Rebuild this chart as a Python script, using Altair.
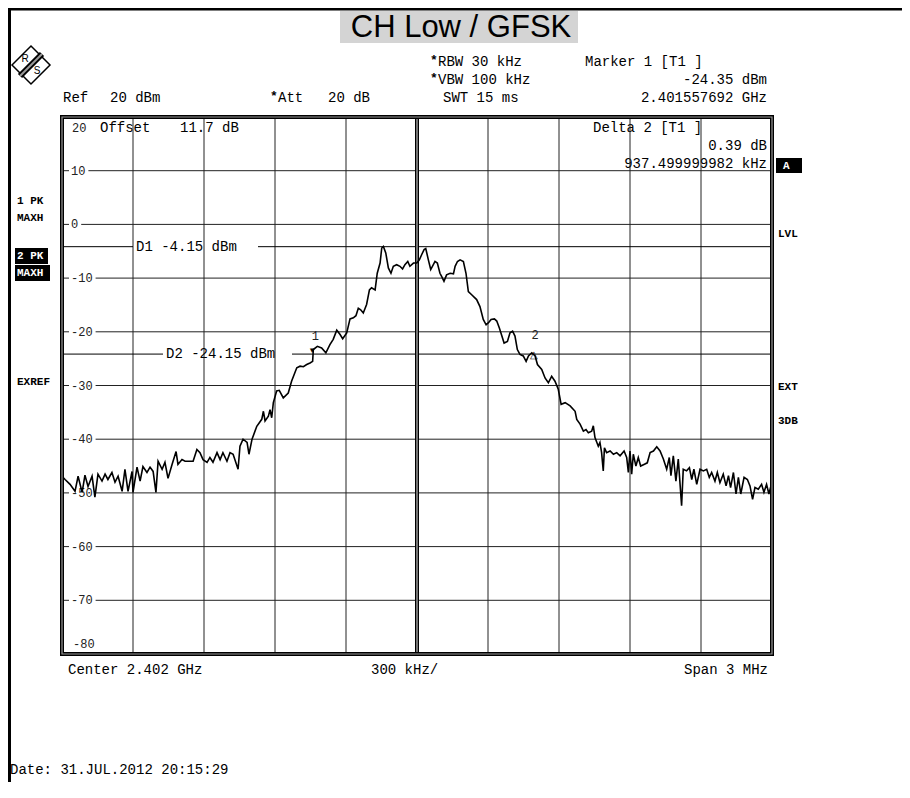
import altair as alt
import pandas as pd

# ---------------- data (frequency offset from 2.402 GHz in kHz, level in dBm) ----------------
left_freq = [-1498, -1487, -1466, -1445, -1432, -1415, -1403, -1390, -1373, -1361, -1348, -1331, -1318,
             -1306, -1289, -1276, -1263, -1246, -1234, -1221, -1204, -1200, -1183, -1170, -1158, -1141,
             -1128, -1115, -1103, -1094, -1077, -1065, -1052, -1035, -1018, -1010, -993, -980, -968,
             -946, -930, -917, -904, -887, -875, -862, -845, -832, -820, -803, -790, -777, -756, -748,
             -735, -718, -710, -697]
left_level = [-47.0, -47.5, -48.4, -49.7, -46.9, -49.9, -46.7, -48.8, -46.9, -50.8, -46.5, -47.8, -46.5,
              -47.5, -46.2, -48.0, -46.9, -49.7, -45.6, -49.7, -46.0, -49.9, -45.2, -47.8, -45.1, -46.2,
              -45.2, -46.0, -49.9, -44.1, -45.6, -44.3, -47.3, -44.7, -42.3, -44.7, -43.8, -44.1, -44.1,
              -44.1, -41.9, -42.5, -43.8, -44.3, -43.4, -44.3, -42.5, -43.8, -42.5, -44.1, -42.5, -42.8,
              -45.6, -41.3, -40.0, -40.6, -42.8, -40.0]

lobe_freq = [-677, -656, -649, -642, -628, -621, -614, -607, -593, -582,
             -565, -544, -530, -508, -494, -480, -466, -452, -441, -438,
             -421, -403, -385, -368, -354, -339, -325, -314, -297, -283,
             -269, -258, -248, -238, -227, -213, -201, -192, -177, -168,
             -156, -149, -142, -132, -121, -110, -100, -86, -72, -61,
             -51, -39, -30, -15, -1, 10, 20, 30, 37, 48,
             58, 69, 76, 86, 97, 104, 114, 125, 140, 154,
             161, 171, 182, 196, 207, 217, 231, 252, 266, 280,
             292, 302, 313, 327, 337, 348, 358, 368, 382, 393,
             404, 414, 424, 435, 449, 461, 471, 485, 499, 509,
             527, 541, 555, 569, 583, 597, 609, 626, 647, 668]
lobe_level = [-37.6, -36.3, -34.8, -36.6, -35.7, -34.5, -36.0, -33.2, -31.0, -30.9,
              -32.3, -31.4, -29.2, -26.7, -26.4, -26.5, -26.1, -25.8, -25.5, -23.3,
              -22.7, -23.0, -23.9, -22.4, -21.4, -19.7, -20.5, -21.3, -20.2, -17.6,
              -17.4, -17.0, -15.6, -15.9, -16.5, -14.9, -12.2, -11.8, -12.2, -9.1,
              -7.2, -4.4, -4.1, -5.3, -8.1, -9.1, -7.8, -7.5, -7.8, -8.3,
              -7.5, -6.9, -7.8, -7.2, -7.2, -6.6, -5.6, -4.7, -4.5, -6.6,
              -8.4, -7.5, -6.9, -7.2, -9.1, -9.7, -10.6, -9.4, -9.1, -9.2,
              -7.8, -6.9, -6.6, -6.9, -9.1, -12.5, -13.1, -14.0, -15.3, -17.7,
              -18.7, -18.3, -17.7, -17.6, -18.0, -19.3, -20.7, -22.1, -21.8, -20.2,
              -19.9, -20.8, -23.3, -24.2, -24.5, -25.5, -24.5, -23.9, -24.5, -26.1,
              -27.0, -28.6, -29.5, -28.3, -29.2, -30.7, -33.5, -33.2, -33.8, -34.8]

right_freq = [675, 689, 703, 714, 724, 738, 745, 752, 766, 773,
              780, 787, 792, 801, 816, 830, 844, 858, 875, 886,
              893, 900, 907, 914, 925, 935, 945, 959, 973, 985,
              999, 1013, 1027, 1041, 1055, 1066, 1073, 1083, 1094, 1104,
              1118, 1125, 1139, 1151, 1161, 1170, 1182, 1196, 1210, 1224,
              1235, 1245, 1259, 1269, 1280, 1294, 1306, 1316, 1325, 1337,
              1348, 1358, 1368, 1382, 1396, 1407, 1418, 1428, 1442, 1456,
              1466, 1477, 1487, 1499]
right_level = [-36.3, -37.2, -38.5, -38.2, -38.8, -38.5, -37.5, -39.7, -41.3, -40.6,
               -42.5, -45.9, -41.6, -42.5, -42.2, -42.8, -42.5, -43.1, -42.2, -43.4,
               -46.2, -42.2, -46.5, -42.8, -45.0, -43.4, -45.0, -44.7, -44.4, -42.5,
               -42.2, -41.4, -42.2, -43.7, -45.6, -43.4, -46.8, -43.1, -47.8, -43.7,
               -52.4, -45.6, -45.9, -45.3, -47.5, -45.6, -48.4, -45.6, -45.9, -45.6,
               -47.1, -46.2, -47.8, -46.2, -48.1, -46.5, -48.7, -46.8, -49.0, -46.2,
               -50.2, -47.1, -50.2, -47.1, -47.5, -48.7, -51.2, -49.0, -49.3, -48.4,
               -49.9, -48.4, -50.2, -48.1]

level_ticks = [10, 0, -10, -20, -30, -40, -50, -60, -70]
freq_lines = [-1200, -900, -600, -300, 300, 600, 900, 1200]
marker_freq = [-442.3, 495.2]
marker_level = [-24.35, -23.96]
display_levels = [-4.15, -24.15]
display_names = ["D1 -4.15 dBm", "D2 -24.15 dBm"]

# ---------------- layout helpers ----------------
W, H = 710, 537
KPP = 3000 / W  # kHz per pixel
MONO = "Courier New, Liberation Mono, monospace"
SANS = "Arial, Liberation Sans, sans-serif"

xs = alt.Scale(domain=[-1500, 1500], nice=False, zero=False)
ys = alt.Scale(domain=[-80, 20], nice=False, zero=False)


def X(f):
    return alt.X(f, type="quantitative", scale=xs, axis=None)


def Y(f):
    return alt.Y(f, type="quantitative", scale=ys, axis=None)


def PX(f):
    return alt.X(f, type="quantitative", scale=None, axis=None)


def PY(f):
    return alt.Y(f, type="quantitative", scale=None, axis=None)


def texts(rows, **kw):
    df = pd.DataFrame(rows, columns=["px", "py", "t"])
    return alt.Chart(df).mark_text(**kw).encode(x=PX("px"), y=PY("py"), text="t:N")


def boxes(rows, **kw):
    df = pd.DataFrame(rows, columns=["x0", "y0", "x1", "y1"])
    return alt.Chart(df).mark_rect(**kw).encode(x=PX("x0"), x2="x1", y=PY("y0"), y2="y1")


def prules(rows, **kw):
    df = pd.DataFrame(rows, columns=["x0", "y0", "x1", "y1"])
    return alt.Chart(df).mark_rule(**kw).encode(x=PX("x0"), x2="x1", y=PY("y0"), y2="y1")


layers = []

# outer screenshot border (left / top)
layers.append(prules([(-53, -109, -53, 665)], color="black", strokeWidth=4))
layers.append(prules([(-54, -108, 840, -108)], color="black", strokeWidth=3))

# title
layers.append(boxes([(278, -106, 516, -74)], color="#d4d4d4"))
layers.append(texts([(399, -89, "CH Low / GFSK")], font=SANS, fontSize=31, align="center",
                    baseline="middle", color="black"))

# R&S logo
logo_df = pd.DataFrame({"px": [-31], "py": [-52]})
layers.append(alt.Chart(logo_df).mark_point(shape="diamond", size=1444, filled=True, fill="white",
                                            stroke="black", strokeWidth=1.5, opacity=1)
              .encode(x=PX("px"), y=PY("py")))
layers.append(prules([(-42, -41, -20, -63)], color="black", strokeWidth=6))
layers.append(prules([(-42, -41, -20, -63)], color="#9a9a9a", strokeWidth=2))
layers.append(texts([(-37, -58, "R"), (-25, -46, "S")], font=SANS, fontSize=10, align="center",
                    baseline="middle", color="black"))

# header text
hdr = dict(font=MONO, fontSize=14, baseline="middle", color="black")
layers.append(texts([(1, -19, "Ref"), (48, -19, "20 dBm"), (216, -19, "Att"), (266, -19, "20 dB"),
                     (381, -19, "SWT 15 ms"), (376, -55, "RBW 30 kHz"), (376, -37, "VBW 100 kHz"),
                     (523, -55, "Marker 1 [T1 ]"),
                     (38, 11, "Offset"), (118, 11, "11.7 dB"), (531, 11, "Delta 2 [T1 ]"),
                     (6, 553, "Center 2.402 GHz"), (309, 553, "300 kHz/"),
                     (-52, 653, "Date: 31.JUL.2012  20:15:29")], align="left", **hdr))
layers.append(texts([(705, -37, "-24.35 dBm"), (705, -19, "2.401557692 GHz"), (705, 29, "0.39 dB"),
                     (705, 47, "937.499999982 kHz"), (706, 553, "Span 3 MHz")], align="right", **hdr))
layers.append(texts([(368, -57, "*"), (368, -39, "*"), (208, -21, "*")], align="left", font=MONO,
                    fontSize=13, fontWeight="bold", baseline="middle", color="black"))

# side status labels
side = dict(font=MONO, fontSize=11, fontWeight="bold", baseline="middle", align="left")
layers.append(texts([(-45, 84, "1 PK"), (-45, 101, "MAXH"), (-45, 265, "EXREF"), (716, 117, "LVL"),
                     (716, 270, "EXT"), (716, 304, "3DB")], color="black", **side))
layers.append(boxes([(-47, 131, -14, 147), (-47, 148, -12, 164), (714, 41, 740, 56)], color="black"))
layers.append(texts([(-45, 139, "2 PK"), (-45, 156, "MAXH"), (721, 48.5, "A")], color="white", **side))

# grid
grid_rows = []
for f in freq_lines:
    grid_rows.append(dict(x0=f, x1=f, y0=-80, y1=20))
for lv in level_ticks:
    gap_end = -1500 + (12 + 7.2 * len(str(lv))) * KPP
    grid_rows.append(dict(x0=-1500, x1=-1500 + 7 * KPP, y0=lv, y1=lv))
    grid_rows.append(dict(x0=gap_end, x1=1500, y0=lv, y1=lv))
layers.append(alt.Chart(pd.DataFrame(grid_rows)).mark_rule(color="#222", strokeWidth=1)
              .encode(x=X("x0"), x2="x1", y=Y("y0"), y2="y1"))

# level labels
tick_df = pd.DataFrame({"lvl": level_ticks, "t": [str(v) for v in level_ticks]})
layers.append(alt.Chart(tick_df).mark_text(align="left", baseline="middle", font=MONO, fontSize=12,
                                           color="#222")
              .encode(x=alt.value(9), y=Y("lvl"), text="t:N"))
layers.append(texts([(10, 11, "20"), (11, 527, "-80")], font=MONO, fontSize=12, align="left",
                    baseline="middle", color="#222"))

# display lines D1 / D2
d_rows = [
    dict(x0=-1500, x1=-1500 + 71 * KPP, y=display_levels[0]),
    dict(x0=-1500 + 196 * KPP, x1=1500, y=display_levels[0]),
    dict(x0=-1500, x1=-1500 + 101 * KPP, y=display_levels[1]),
    dict(x0=-1500 + 230 * KPP, x1=1500, y=display_levels[1]),
]
layers.append(alt.Chart(pd.DataFrame(d_rows)).mark_rule(color="black", strokeWidth=1)
              .encode(x=X("x0"), x2="x1", y=Y("y")))
layers.append(alt.Chart(pd.DataFrame({"lvl": [display_levels[0]], "t": [display_names[0]]}))
              .mark_text(align="left", baseline="middle", font=MONO, fontSize=14, color="black")
              .encode(x=alt.value(74), y=Y("lvl"), text="t:N"))
layers.append(alt.Chart(pd.DataFrame({"lvl": [display_levels[1]], "t": [display_names[1]]}))
              .mark_text(align="left", baseline="middle", font=MONO, fontSize=14, color="black")
              .encode(x=alt.value(104), y=Y("lvl"), text="t:N"))

# centre line (double)
centre = pd.DataFrame({"f": [0], "y0": [-80], "y1": [20]})
layers.append(alt.Chart(centre).mark_rule(color="black", strokeWidth=4)
              .encode(x=X("f"), y=Y("y0"), y2="y1"))
layers.append(alt.Chart(centre).mark_rule(color="#999", strokeWidth=1.5)
              .encode(x=X("f"), y=Y("y0"), y2="y1"))

# trace
trace_df = pd.DataFrame({"f": left_freq + lobe_freq + right_freq,
                         "lvl": left_level + lobe_level + right_level})
layers.append(alt.Chart(trace_df).mark_line(color="black", strokeWidth=1.6)
              .encode(x=X("f"), y=Y("lvl"), order="f:Q"))

# markers
m1 = pd.DataFrame({"f": [marker_freq[0]], "lvl": [marker_level[0]]})
m2 = pd.DataFrame({"f": [marker_freq[1]], "lvl": [marker_level[1]]})
layers.append(alt.Chart(m1).mark_text(text="\u25BC", fontSize=8, dy=-4, color="black")
              .encode(x=X("f"), y=Y("lvl")))
layers.append(alt.Chart(m1).mark_text(text="1", font=MONO, fontSize=12, dx=3, dy=-19, color="#222")
              .encode(x=X("f"), y=Y("lvl")))
layers.append(alt.Chart(m2).mark_text(text="\u25B3", fontSize=10, dy=2, color="black")
              .encode(x=X("f"), y=Y("lvl")))
layers.append(alt.Chart(m2).mark_text(text="2", font=MONO, fontSize=12, dx=1, dy=-18, color="#222")
              .encode(x=X("f"), y=Y("lvl")))

# plot frame (double line)
layers.append(boxes([(0, 0, W, H)], fill=None, fillOpacity=0, stroke="black", strokeWidth=4))
layers.append(boxes([(0, 0, W, H)], fill=None, fillOpacity=0, stroke="#999", strokeWidth=1.2))

chart = (
    alt.layer(*layers)
    .resolve_scale(x="independent", y="independent")
    .properties(width=W, height=H,
                padding={"left": 54, "top": 109, "right": 130, "bottom": 128},
                autosize=alt.AutoSizeParams(type="none"), background="white")
    .configure_view(stroke=None)
)

chart.save("out.html", embed_options={"renderer": "svg", "actions": False})
